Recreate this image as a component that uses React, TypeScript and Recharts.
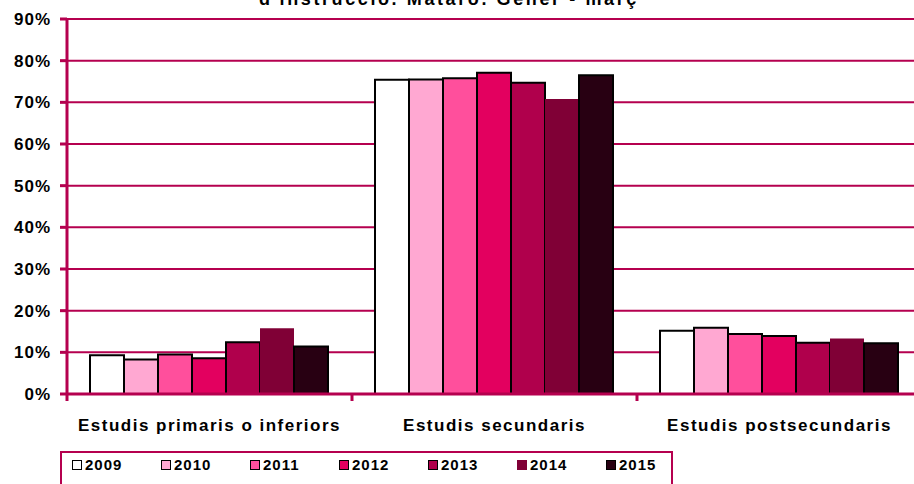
import React from 'react';
import { BarChart, Bar, XAxis, YAxis, CartesianGrid } from 'recharts';

const categories = ['Estudis primaris o inferiors', 'Estudis secundaris', 'Estudis postsecundaris'];
const years = ['2009', '2010', '2011', '2012', '2013', '2014', '2015'];

// share of population per year, by level (primaris, secundaris, postsecundaris)
const v2009 = [0.093, 0.754, 0.152];
const v2010 = [0.083, 0.755, 0.159];
const v2011 = [0.095, 0.758, 0.144];
const v2012 = [0.086, 0.771, 0.139];
const v2013 = [0.124, 0.747, 0.123];
const v2014 = [0.158, 0.708, 0.133];
const v2015 = [0.114, 0.765, 0.122];
const seriesValues = [v2009, v2010, v2011, v2012, v2013, v2014, v2015];

const yTicks = [0, 0.1, 0.2, 0.3, 0.4, 0.5, 0.6, 0.7, 0.8, 0.9];

const colors = ['#FFFFFF', '#FFA8D2', '#FF4F9C', '#E3005F', '#B0004C', '#800036', '#280012'];
const outlined = [true, true, true, true, true, false, true];
const AXIS = '#B5004F';
const FONT = 'Arial, "Liberation Sans", Helvetica, sans-serif';

const data = categories.map((name, ci) => {
  const row: Record<string, string | number> = { name };
  years.forEach((y, yi) => {
    row[y] = seriesValues[yi][ci];
  });
  return row;
});

// category label plus Excel-style tick marks on the band edges
const CatTick = ({ x, y, payload }: any) => {
  const half = payload.offset || 0;
  const last = payload.index === categories.length - 1;
  return (
    <g>
      <line x1={x - half} x2={x - half} y1={y} y2={y + 7} stroke={AXIS} strokeWidth={3} />
      {last && <line x1={x + half} x2={x + half} y1={y} y2={y + 7} stroke={AXIS} strokeWidth={3} />}
      <text x={x} y={y} dy={37} textAnchor="middle" fontFamily={FONT} fontWeight="bold" fontSize={17} letterSpacing={1.5} fill="#000">
        {payload.value}
      </text>
    </g>
  );
};

export default function App() {
  return (
    <div style={{ position: 'absolute', left: 0, top: 0, width: 914, height: 484, overflow: 'hidden', background: '#fff', fontFamily: FONT }}>
      <div style={{ position: 'absolute', left: 0, width: 898, top: -10, textAlign: 'center', fontSize: 18, lineHeight: '18px', letterSpacing: 2.6, fontWeight: 'bold', color: '#000' }}>
        d'instrucció. Mataró. Gener - març
      </div>
      <BarChart
        width={922}
        height={484}
        data={data}
        margin={{ top: 19, right: 0, left: 0, bottom: 50 }}
        barCategoryGap={23}
        barGap={0}
      >
        <CartesianGrid horizontal vertical={false} stroke={AXIS} strokeWidth={2} />
        <XAxis
          dataKey="name"
          height={40}
          tickSize={0}
          tickMargin={0}
          axisLine={{ stroke: AXIS, strokeWidth: 3 }}
          tickLine={false}
          tick={<CatTick />}
          interval={0}
        />
        <YAxis
          width={67}
          domain={[0, 0.9]}
          ticks={yTicks}
          interval={0}
          tickFormatter={(v: number) => `${Math.round(v * 100)}%`}
          tickSize={7}
          tickMargin={9}
          axisLine={{ stroke: AXIS, strokeWidth: 3 }}
          tickLine={{ stroke: AXIS, strokeWidth: 3 }}
          tick={{ fill: '#000', fontSize: 17, fontWeight: 'bold', fontFamily: FONT, letterSpacing: 1 }}
        />
        {years.map((y, i) => (
          <Bar
            key={y}
            dataKey={y}
            fill={colors[i]}
            stroke={outlined[i] ? '#000' : 'none'}
            strokeWidth={2}
            isAnimationActive={false}
          />
        ))}
      </BarChart>
      <div style={{ position: 'absolute', left: 60, top: 451, width: 609, height: 40, border: `2px solid ${AXIS}` }}>
        {years.map((y, i) => (
          <div key={y} style={{ position: 'absolute', left: 10 + i * 89, top: 3, display: 'flex', alignItems: 'center', fontSize: 15, letterSpacing: 1, fontWeight: 'bold', color: '#000' }}>
            <span style={{ display: 'inline-block', boxSizing: 'border-box', width: 10, height: 10, background: colors[i], border: outlined[i] ? '1.5px solid #000' : 'none', marginRight: 3 }} />
            {y}
          </div>
        ))}
      </div>
    </div>
  );
}
